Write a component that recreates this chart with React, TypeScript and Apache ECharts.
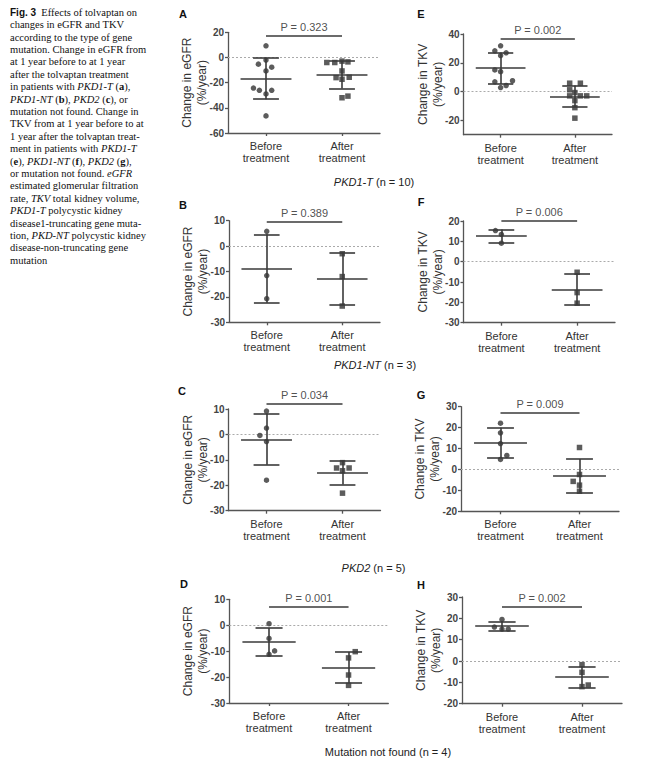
import React, { useEffect, useRef } from "react";
import * as echarts from "echarts";

const categories = ["Before\ntreatment", "After\ntreatment"];

// A: eGFR, PKD1-T
const egfrPkd1tBefore = [9.3, -5.3, -2.1, -7.7, -10.7, -24.3, -26.1, -26.1, -29.0, -46.4];
const egfrPkd1tBeforeJit = [0, -0.1, 0, 0.075, 0, -0.165, -0.087, 0.075, 0, 0];
const egfrPkd1tAfter = [-4.0, -4.0, -2.9, -3.5, -10.7, -16.0, -17.3, -15.7, -32.0, -30.7];
const egfrPkd1tAfterJit = [-0.2, -0.095, 0, 0.078, 0, -0.078, 0, 0.095, 0, 0.078];
// E: TKV, PKD1-T
const tkvPkd1tBefore = [31.8, 28.3, 26.9, 25.0, 15.0, 13.8, 6.8, 7.5, 2.8, 4.2];
const tkvPkd1tBeforeJit = [0, -0.078, 0.074, 0, -0.078, 0, -0.078, 0.16, 0, 0.074];
const tkvPkd1tAfter = [5.8, 5.8, 1.2, -0.7, -3.0, -3.0, -3.0, -6.3, -11.2, -18.5];
const tkvPkd1tAfterJit = [-0.07, 0.074, -0.07, 0, -0.07, 0.074, 0.16, 0, 0, 0];
// B: eGFR, PKD1-NT
const egfrPkd1ntBefore = [5.8, -11.6, -20.7];
const egfrPkd1ntBeforeJit = [0, 0, 0];
const egfrPkd1ntAfter = [-3.0, -12.0, -23.6];
const egfrPkd1ntAfterJit = [0, 0, 0];
// F: TKV, PKD1-NT
const tkvPkd1ntBefore = [15.3, 13.4, 9.1];
const tkvPkd1ntBeforeJit = [-0.078, 0, 0];
const tkvPkd1ntAfter = [-5.2, -15.2, -20.4];
const tkvPkd1ntAfterJit = [0, 0, 0];
// C: eGFR, PKD2
const egfrPkd2Before = [9.2, 2.5, -0.4, -2.8, -18.0];
const egfrPkd2BeforeJit = [0, 0, -0.087, 0, 0];
const egfrPkd2After = [-11.1, -13.2, -13.2, -14.3, -23.1];
const egfrPkd2AfterJit = [0, -0.078, 0.087, 0, 0];
// G: TKV, PKD2
const tkvPkd2Before = [22.1, 17.5, 12.4, 6.7, 4.8];
const tkvPkd2BeforeJit = [0, 0, 0, 0.08, 0];
const tkvPkd2After = [10.5, -2.4, -5.7, -7.5, -10.4];
const tkvPkd2AfterJit = [0, 0, -0.08, 0, 0];
// D: eGFR, mutation not found
const egfrNfBefore = [0.6, -5.1, -9.9, -11.2];
const egfrNfBeforeJit = [0, 0, 0.07, 0];
const egfrNfAfter = [-10.2, -12.6, -19.2, -23.2];
const egfrNfAfterJit = [0.084, 0, 0, 0];
// H: TKV, mutation not found
const tkvNfBefore = [19.5, 15.9, 15.0, 15.0];
const tkvNfBeforeJit = [0, -0.095, 0, 0.078];
const tkvNfAfter = [-1.7, -5.3, -12.0, -11.25];
const tkvNfAfterJit = [0, 0, 0, 0.078];

const pValues = ["P = 0.323", "P = 0.002", "P = 0.389", "P = 0.006", "P = 0.034", "P = 0.009", "P = 0.001", "P = 0.002"];
const pBracketY = [17.3, 37, 9.7, 20.2, 12.1, 27.2, 7.3, 25.3];
const panelLetters = ["A", "E", "B", "F", "C", "G", "D", "H"];
const yTicksA = [-60, -40, -20, 0, 20];
const yTicksE = [-20, 0, 20, 40];
const yTicksEgfr = [-30, -20, -10, 0, 10];
const yTicksF = [-30, -20, -10, 0, 10, 20];
const yTicksTkv = [-20, -10, 0, 10, 20, 30];
const yNames = ["Change in eGFR\n(%/year)", "Change in TKV\n(%/year)"];
const groupLabels = ["{i|PKD1-T} (n = 10)", "{i|PKD1-NT} (n = 3)", "{i|PKD2} (n = 5)", "Mutation not found (n = 4)"];

const caption = [
  "{fig|Fig. 3}  Effects of tolvaptan on",
  "changes in eGFR and TKV",
  "according to the type of gene",
  "mutation. Change in eGFR from",
  "at 1 year before to at 1 year",
  "after the tolvaptan treatment",
  "in patients with {i|PKD1-T} ({b|a}),",
  "{i|PKD1-NT} ({b|b}), {i|PKD2} ({b|c}), or",
  "mutation not found. Change in",
  "TKV from at 1 year before to at",
  "1 year after the tolvaptan treat-",
  "ment in patients with {i|PKD1-T}",
  "({b|e}), {i|PKD1-NT} ({b|f}), {i|PKD2} ({b|g}),",
  "or mutation not found. {i|eGFR}",
  "estimated glomerular filtration",
  "rate, {i|TKV} total kidney volume,",
  "{i|PKD1-T} polycystic kidney",
  "disease1-truncating gene muta-",
  "tion, {i|PKD-NT} polycystic kidney",
  "disease-non-truncating gene",
  "mutation",
];

const SANS = "'Liberation Sans', Arial, sans-serif";
const SERIF = "'Liberation Serif', 'Times New Roman', serif";
const DARK = "#3a3a3a";

const mean = (a: number[]) => a.reduce((s, v) => s + v, 0) / a.length;
const sd = (a: number[]) => {
  const m = mean(a);
  return Math.sqrt(a.reduce((s, v) => s + (v - m) * (v - m), 0) / (a.length - 1));
};

export default function App() {
  const ref = useRef<HTMLDivElement>(null);
  useEffect(() => {
    document.body.style.margin = "0";
    const chart = echarts.init(ref.current!, null, { renderer: "svg" });

    const panels = [
      { b: egfrPkd1tBefore, bj: egfrPkd1tBeforeJit, a: egfrPkd1tAfter, aj: egfrPkd1tAfterJit, min: -60, max: 20, ticks: yTicksA, name: yNames[0], grid: { left: 228, top: 32.3, width: 152, height: 100.7 } },
      { b: tkvPkd1tBefore, bj: tkvPkd1tBeforeJit, a: tkvPkd1tAfter, aj: tkvPkd1tAfterJit, min: -30, max: 40, ticks: yTicksE, name: yNames[1], grid: { left: 463.5, top: 34, width: 148.5, height: 100.7 } },
      { b: egfrPkd1ntBefore, bj: egfrPkd1ntBeforeJit, a: egfrPkd1ntAfter, aj: egfrPkd1ntAfterJit, min: -30, max: 10, ticks: yTicksEgfr, name: yNames[0], grid: { left: 229, top: 220.7, width: 151, height: 101.6 } },
      { b: tkvPkd1ntBefore, bj: tkvPkd1ntBeforeJit, a: tkvPkd1ntAfter, aj: tkvPkd1ntAfterJit, min: -30, max: 20, ticks: yTicksF, name: yNames[1], grid: { left: 463.5, top: 221, width: 151.5, height: 101.7 } },
      { b: egfrPkd2Before, bj: egfrPkd2BeforeJit, a: egfrPkd2After, aj: egfrPkd2AfterJit, min: -30, max: 10, ticks: yTicksEgfr, name: yNames[0], grid: { left: 228.5, top: 409, width: 152, height: 101.7 } },
      { b: tkvPkd2Before, bj: tkvPkd2BeforeJit, a: tkvPkd2After, aj: tkvPkd2AfterJit, min: -20, max: 30, ticks: yTicksTkv, name: yNames[1], grid: { left: 461, top: 406.7, width: 158, height: 104.6 } },
      { b: egfrNfBefore, bj: egfrNfBeforeJit, a: egfrNfAfter, aj: egfrNfAfterJit, min: -30, max: 10, ticks: yTicksEgfr, name: yNames[0], grid: { left: 229.3, top: 599.3, width: 159, height: 103.7 } },
      { b: tkvNfBefore, bj: tkvNfBeforeJit, a: tkvNfAfter, aj: tkvNfAfterJit, min: -20, max: 30, ticks: yTicksTkv, name: yNames[1], grid: { left: 462, top: 597, width: 160, height: 106.7 } },
    ];
    const letterPos = [[183, 14], [421, 14], [183, 205], [421, 202], [182, 391], [421, 395], [184, 584], [421, 585]];
    const groupPos = [[374, 182], [375, 365], [373.5, 568], [388, 751.7]];

    const grids: any[] = [];
    const xAxes: any[] = [];
    const yAxes: any[] = [];
    const series: any[] = [];
    const catPos = [0.5, 1.5];

    panels.forEach((p, gi) => {
      grids.push({ ...p.grid, containLabel: false });
      xAxes.push({
        gridIndex: gi, type: "value", min: 0, max: 2,
        axisLine: { show: true, onZero: false, lineStyle: { color: "#555", width: 1.3 } },
        axisTick: { show: true, customValues: catPos, length: 3, lineStyle: { color: "#555", width: 1.3 } },
        axisLabel: {
          show: true, customValues: catPos, margin: 7,
          formatter: (v: number) => categories[v < 1 ? 0 : 1],
          fontFamily: SANS, fontSize: 11, lineHeight: 12, color: "#333",
        },
        splitLine: { show: false },
      });
      yAxes.push({
        gridIndex: gi, type: "value", min: p.min, max: p.max,
        axisLine: { show: true, onZero: false, lineStyle: { color: "#555", width: 1.3 } },
        axisTick: { show: true, customValues: p.ticks, length: 3, lineStyle: { color: "#555", width: 1.3 } },
        axisLabel: { show: true, customValues: p.ticks, margin: 4, fontFamily: SANS, fontSize: 10, fontWeight: "bold", color: "#444" },
        splitLine: { show: false },
        name: p.name, nameLocation: "middle", nameRotate: 90, nameGap: 18.5, nameMoveOverlap: false,
        nameTextStyle: { fontFamily: SANS, fontSize: 12, lineHeight: 15, color: "#333" },
      });

      const common = { xAxisIndex: gi, yAxisIndex: gi };
      // zero reference line
      series.push({
        ...common, type: "lines", coordinateSystem: "cartesian2d", polyline: false, clip: false, silent: true, z: 1,
        lineStyle: { color: "#aaa", width: 1, type: [2, 2], opacity: 1 },
        data: [{ coords: [[0, 0], [2, 0]] }],
      });
      // points
      series.push({
        ...common, type: "scatter", symbol: "circle", symbolSize: 5.5, z: 3, clip: false,
        itemStyle: { color: "#333" },
        data: p.b.map((v, i) => [catPos[0] + p.bj[i], v]),
      });
      series.push({
        ...common, type: "scatter", symbol: "rect", symbolSize: 5.5, z: 3, clip: false,
        itemStyle: { color: "#333" },
        data: p.a.map((v, i) => [catPos[1] + p.aj[i], v]),
      });
      // mean and SD bars, and P bracket
      const barData: any[] = [];
      [p.b, p.a].forEach((vals, k) => {
        const c = catPos[k];
        const m = mean(vals);
        const s = sd(vals);
        barData.push({ coords: [[c - 0.335, m], [c + 0.335, m]] });
        barData.push({ coords: [[c - 0.17, m + s], [c + 0.17, m + s]] });
        barData.push({ coords: [[c - 0.17, m - s], [c + 0.17, m - s]] });
        barData.push({ coords: [[c, m - s], [c, m + s]] });
      });
      barData.push({ coords: [[catPos[0], pBracketY[gi]], [catPos[1], pBracketY[gi]]] });
      series.push({
        ...common, type: "lines", coordinateSystem: "cartesian2d", polyline: false, clip: false, silent: true, z: 4,
        lineStyle: { color: DARK, width: 1.6, opacity: 1, curveness: 0 },
        data: barData,
      });
      // P value label
      series.push({
        ...common, type: "scatter", symbol: "circle", symbolSize: 0.1, clip: false, silent: true, z: 5,
        itemStyle: { color: "rgba(0,0,0,0)" },
        label: { show: true, position: "top", distance: 3, formatter: pValues[gi], fontFamily: SANS, fontSize: 11, color: "#222" },
        data: [[1, pBracketY[gi]]],
      });
    });

    const graphics: any[] = [];
    graphics.push({
      type: "text", left: 10, top: 6,
      style: {
        text: caption.join("\n"), fontFamily: SERIF, fontSize: 10.5, lineHeight: 12.4, fill: "#111",
        rich: {
          fig: { fontFamily: SANS, fontWeight: "bold", fontSize: 10, lineHeight: 12.4 },
          i: { fontFamily: SERIF, fontStyle: "italic", fontSize: 10.5, lineHeight: 12.4 },
          b: { fontFamily: SERIF, fontWeight: "bold", fontSize: 10.5, lineHeight: 12.4 },
        },
      },
    });
    panelLetters.forEach((l, i) => {
      graphics.push({
        type: "text", x: letterPos[i][0], y: letterPos[i][1],
        style: { text: l, fontFamily: SANS, fontWeight: "bold", fontSize: 11, fill: "#111", align: "center", verticalAlign: "middle", textAlign: "center", textVerticalAlign: "middle" },
      });
    });
    groupLabels.forEach((g, i) => {
      graphics.push({
        type: "text", x: groupPos[i][0], y: groupPos[i][1],
        style: {
          text: g, fontFamily: SANS, fontSize: 11, fill: "#222", align: "center", verticalAlign: "middle", textAlign: "center", textVerticalAlign: "middle",
          rich: { i: { fontFamily: SANS, fontStyle: "italic", fontSize: 11 } },
        },
      });
    });

    chart.setOption({
      animation: false,
      backgroundColor: "#fff",
      grid: grids,
      xAxis: xAxes,
      yAxis: yAxes,
      series,
      graphic: graphics,
    });
    return () => chart.dispose();
  }, []);
  return <div ref={ref} style={{ width: 647, height: 769 }} />;
}
